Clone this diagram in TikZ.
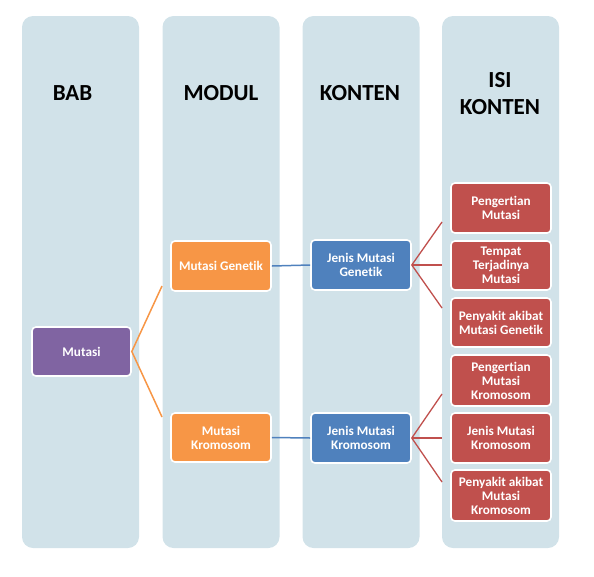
\documentclass[tikz,border=0pt]{standalone}
\usepackage{fontspec}
\setmainfont[Ligatures={NoCommon}]{Carlito}
\definecolor{colbg}{RGB}{209,226,233}
\definecolor{cpurple}{RGB}{128,100,162}
\definecolor{corange}{RGB}{247,150,70}
\definecolor{cblue}{RGB}{79,129,189}
\definecolor{cred}{RGB}{192,80,77}
\tikzset{
  colbox/.style={fill=colbg, draw=none, rounded corners=11pt, minimum width=117pt, minimum height=532pt, inner sep=0pt},
  head/.style={font=\bfseries\fontsize{23}{27}\selectfont, align=center, inner sep=0pt, text=black},
  item/.style={draw=white, line width=1.6pt, rounded corners=4pt, minimum width=100pt, minimum height=50pt, inner sep=1pt, align=center, text=white, font=\bfseries\fontsize{13.2}{14}\selectfont},
  purplebox/.style={item, fill=cpurple},
  orangebox/.style={item, fill=corange},
  bluebox/.style={item, fill=cblue},
  redbox/.style={item, fill=cred},
  oline/.style={draw=corange, line width=1.5pt},
  bline/.style={draw=cblue, line width=1.5pt},
  rline/.style={draw=cred, line width=1.3pt},
}
\begin{document}
\begin{tikzpicture}[x=1pt,y=-1pt]
\useasboundingbox (0,0) rectangle (594,576);
% columns
\node[colbox] (c1) at (80.5,282) {};
\node[colbox] (c2) at (221,282) {};
\node[colbox] (c3) at (361,282) {};
\node[colbox] (c4) at (500.5,282) {};
% headers
\node[head] (h1) at (72.5,93) {BAB};
\node[head] (h2) at (221,93) {MODUL};
\node[head] (h3) at (360,93) {KONTEN};
\node[head] (h4) at (500,93.5) {ISI\\KONTEN};
% items
\node[purplebox, minimum width=99pt, minimum height=49pt] (mut) at (81.5,351.5) {Mutasi};
\node[orangebox] (mg) at (221,266) {Mutasi Genetik};
\node[orangebox, minimum height=49pt] (mk) at (221,437.5) {Mutasi\\Kromosom};
\node[bluebox] (jg) at (361,265) {Jenis Mutasi\\Genetik};
\node[bluebox] (jk) at (361,438) {Jenis Mutasi\\Kromosom};
\node[redbox] (r1) at (501,208) {Pengertian\\Mutasi};
\node[redbox, minimum height=49pt] (r2) at (501,265.5) {Tempat\\Terjadinya\\Mutasi};
\node[redbox, minimum height=49pt] (r3) at (501,322.5) {Penyakit akibat\\Mutasi Genetik};
\node[redbox, minimum height=51pt] (r4) at (501,380.5) {Pengertian\\Mutasi\\Kromosom};
\node[redbox] (r5) at (501,438) {Jenis Mutasi\\Kromosom};
\node[redbox, minimum height=51pt] (r6) at (501,495.5) {Penyakit akibat\\Mutasi\\Kromosom};
% connector ends
\coordinate (o1) at (162,286);
\coordinate (o2) at (162,417);
\coordinate (a1) at (442,222);
\coordinate (a2) at (442,265);
\coordinate (a3) at (442,308);
\coordinate (b1) at (442,394);
\coordinate (b2) at (442,438);
\coordinate (b3) at (442,482);
% connectors
\draw[oline] (o1) -- (mut.east) -- (o2);
\draw[bline] (mg.east) -- (jg.west);
\draw[bline] (mk.east) -- (jk.west);
\draw[rline] (a1) -- (jg.east) -- (a3);
\draw[rline] (jg.east) -- (a2);
\draw[rline] (b1) -- (jk.east) -- (b3);
\draw[rline] (jk.east) -- (b2);
\end{tikzpicture}
\end{document}
